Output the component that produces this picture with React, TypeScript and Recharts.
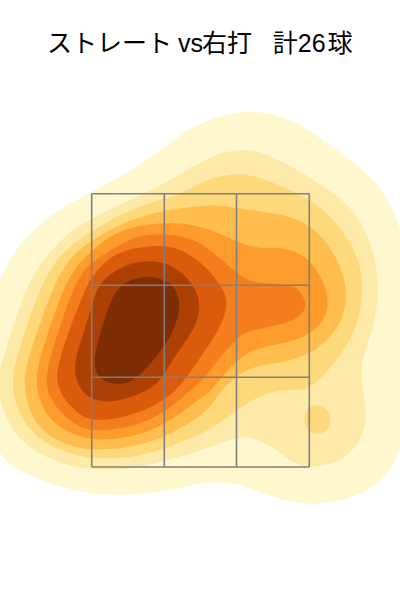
import { ScatterChart, Scatter, XAxis, YAxis } from "recharts";

type Pt = [number, number];

// density contours, outermost first (x right, y down)
const level1: Pt[] = [[250,110],[283,116],[303,126],[333,147],[360,167],[381,187],[394,212],[402,233],[412,280],[418,340],[413,400],[401,451],[388,474],[368,491],[343,501],[310,505],[287,501],[260,493],[240,484],[220,482],[200,483],[167,491],[133,495],[100,495],[67,489],[33,478],[0,461],[-15,420],[-20,370],[-12,320],[-1,279],[16,249],[32,231],[56,211],[91,192],[116,179],[142,164],[166,146],[186,131],[200,124],[220,116]];
const level2: Pt[] = [[240,149],[260,151],[280,161],[300,171],[320,184],[341,199],[358,216],[371,243],[377,267],[378,300],[374,327],[364,353],[360,372],[363,393],[367,413],[364,434],[351,454],[333,464],[310,468],[293,463],[277,450],[260,440],[243,436],[220,443],[200,451],[164,461],[133,469],[100,471],[67,466],[32,451],[12,431],[1,405],[-3,383],[0,367],[11,333],[22,300],[32,276],[49,252],[69,232],[91,219],[116,206],[148,192],[173,179],[200,162],[217,154]];
const level3: Pt[] = [[240,173],[260,177],[283,187],[310,199],[328,214],[344,232],[358,257],[363,280],[362,300],[358,323],[348,344],[334,364],[321,378],[310,388],[300,390],[277,390],[257,397],[237,410],[220,423],[200,435],[164,449],[133,458],[92,459],[66,453],[44,443],[26,426],[15,405],[12,383],[14,367],[24,333],[36,300],[49,269],[66,249],[91,231],[116,217],[148,202],[180,196],[200,182],[220,176]];
const level3Island: Pt[] = [[316,404],[327,408],[332,420],[327,432],[317,435],[307,431],[303,420],[307,408]];
const level4: Pt[] = [[220,205],[237,208],[267,212],[293,217],[311,226],[328,243],[341,267],[346,287],[346,300],[343,318],[333,334],[318,348],[308,354],[283,363],[257,365],[237,375],[223,388],[210,407],[200,417],[164,438],[130,448],[92,450],[74,447],[54,439],[37,426],[27,405],[24,383],[26,365],[36,335],[48,300],[62,269],[76,252],[91,241],[113,227],[148,214],[175,209],[200,206]];
const level5: Pt[] = [[217,232],[237,242],[257,249],[283,247],[301,254],[311,262],[323,280],[329,300],[326,318],[311,334],[293,341],[267,346],[247,352],[236,362],[223,375],[210,392],[200,398],[164,426],[130,438],[92,441],[69,433],[51,421],[40,403],[36,383],[38,365],[47,335],[59,300],[71,272],[91,251],[113,234],[130,228],[148,224],[170,223],[187,224],[200,227]];
const level6: Pt[] = [[217,256],[236,272],[247,281],[267,284],[287,284],[299,289],[305,300],[306,307],[301,316],[287,323],[263,328],[243,333],[236,340],[220,357],[207,375],[200,382],[164,414],[130,428],[92,432],[74,424],[59,411],[49,396],[46,383],[48,365],[57,335],[69,300],[79,277],[91,262],[113,249],[130,239],[148,234],[175,234],[200,242]];
const level7: Pt[] = [[214,276],[224,291],[227,300],[226,313],[218,331],[207,348],[200,358],[173,398],[130,417],[92,422],[77,413],[64,399],[56,383],[58,365],[67,335],[81,300],[91,276],[110,257],[127,249],[157,245],[177,247],[200,261]];
const level8: Pt[] = [[170,264],[188,277],[199,296],[200,312],[193,332],[174,357],[166,372],[154,388],[127,399],[107,403],[87,398],[76,383],[74,363],[81,340],[91,310],[97,286],[110,274],[127,264],[150,260]];
const level9: Pt[] = [[163,279],[174,286],[180,300],[179,315],[171,337],[158,355],[141,374],[130,383],[115,385],[99,379],[94,368],[95,353],[101,330],[109,305],[117,289],[130,279],[148,276]];

const contours = [level1, level2, level3, level3Island, level4, level5, level6, level7, level8, level9];
const colors = ["#FFF8CE", "#FEEAA8", "#FED97C", "#FED97C", "#FEBD4C", "#FD9B2C", "#F47E1E", "#DA5B0B", "#AD4005", "#7E2D04"];

const zoneX = [91.7, 164.3, 236.5, 309.3];
const zoneY = [193.7, 285.3, 377.3, 467];

export default function App() {
  const gridLines = [
    ...zoneX.map((x) => [{ x, y: zoneY[0] }, { x, y: zoneY[3] }]),
    ...zoneY.map((y) => [{ x: zoneX[0], y }, { x: zoneX[3], y }]),
  ];
  return (
    <div style={{ position: "absolute", left: 0, top: 0 }}>
      <ScatterChart width={400} height={600} margin={{ top: 0, right: 0, bottom: 0, left: 0 }}>
        <XAxis type="number" dataKey="x" domain={[0, 400]} allowDataOverflow hide />
        <YAxis type="number" dataKey="y" domain={[0, 600]} allowDataOverflow reversed hide />
        {contours.map((pts, i) => (
          <Scatter
            key={i}
            data={pts.map(([x, y]) => ({ x, y }))}
            line={{ fill: colors[i], stroke: "none" }}
            lineJointType="basisClosed"
            shape={() => <g />}
            isAnimationActive={false}
          />
        ))}
        {gridLines.map((seg, i) => (
          <Scatter
            key={"grid" + i}
            data={seg}
            line={{ fill: "none", stroke: "#808080", strokeWidth: 1.6 }}
            shape={() => <g />}
            isAnimationActive={false}
          />
        ))}
        <text x={47} y={52} fontSize={25} fill="#000" fontFamily="'Liberation Sans', 'Noto Sans CJK JP', sans-serif" style={{ whiteSpace: "pre" }}>
          <tspan>ストレート </tspan>
          <tspan dx={-1}>vs</tspan>
          <tspan dx={-1}>右打   </tspan>
          <tspan>計26</tspan>
          <tspan dx={2}>球</tspan>
        </text>
      </ScatterChart>
    </div>
  );
}
